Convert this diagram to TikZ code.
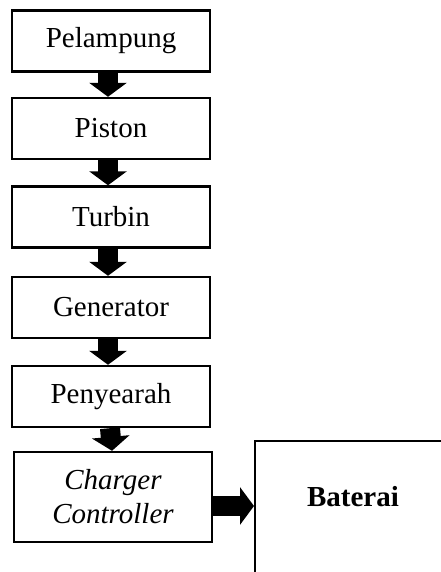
\documentclass[tikz,border=0pt]{standalone}
\usepackage{fontspec}
\setmainfont{Liberation Serif}
\usepackage{tikz}
\usetikzlibrary{arrows.meta}

\tikzset{
	blok/.style = {draw, line width=2.4pt, minimum width=198pt, minimum height=61pt, inner sep=0pt, font=\fontsize{29}{34}\selectfont},
	panah/.style = {line width=20pt, -{Triangle[length=14pt, width=37pt]}},
}

\begin{document}
\begin{tikzpicture}[x=1pt, y=-1pt]
	\useasboundingbox (0,0) rectangle (441,572);
	\clip (0,0) rectangle (441,572);

	% blok utama
	\node [blok] (pel) at (111,41) {Pelampung};
	\node [blok] (pis) at (111,128.5) {Piston};
	\node [blok] (tur) at (111,217) {Turbin};
	\node [blok] (gen) at (111,307.5) {Generator};
	\node [blok] (pen) at (111,396.5) {Penyearah};
	\node [blok, minimum height=90pt, align=center, font=\fontsize{29}{34}\selectfont\itshape] (cha) at (113,497) {Charger\\Controller};

	% baterai (terpotong di tepi)
	\node [blok, anchor=north west, minimum height=200pt] (bat) at (254,440) {};
	\node [font=\fontsize{29}{34}\selectfont\bfseries] (battxt) at (353,497) {Baterai};

	% panah
	\draw [panah] ([xshift=-3pt]pel.south) -- ([xshift=-3pt]pis.north);
	\draw [panah] ([xshift=-3pt]pis.south) -- ([xshift=-3pt]tur.north);
	\draw [panah] ([xshift=-3pt]tur.south) -- ([xshift=-3pt]gen.north);
	\draw [panah] ([xshift=-3pt]gen.south) -- ([xshift=-3pt]pen.north);
	\draw [panah] ([xshift=-1pt]pen.south) -- ([xshift=-1pt]cha.north);
	\draw [panah] ([yshift=-9pt]cha.east) -- ([yshift=-9pt]cha.east -| bat.west);
\end{tikzpicture}
\end{document}
